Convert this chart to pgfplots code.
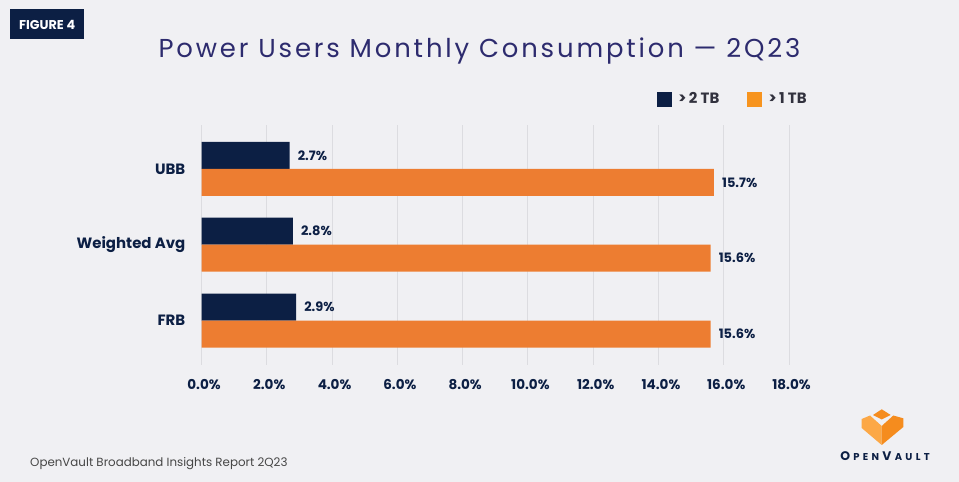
\documentclass[border=0pt]{standalone}
\usepackage{fontspec}
\setmainfont{Poppins}
\newfontfamily\titlefont[LetterSpace=11]{Poppins}
\usepackage{pgfplots}
\pgfplotsset{compat=1.18}
\definecolor{bg}{RGB}{240,240,243}
\definecolor{navy}{RGB}{12,31,68}
\definecolor{barorange}{RGB}{237,125,49}
\definecolor{legorange}{RGB}{247,148,30}
\definecolor{titlecol}{RGB}{45,43,110}
\definecolor{gridcol}{RGB}{220,220,224}
\definecolor{footgray}{RGB}{70,70,70}
\definecolor{legtext}{RGB}{50,50,62}
\definecolor{logolight}{RGB}{252,168,70}
\definecolor{logodark}{RGB}{245,140,30}
\begin{document}
\begin{tikzpicture}
\fill[bg] (0,0) rectangle (959bp,482bp);
\path[use as bounding box] (0,0) rectangle (959bp,482bp);
% figure tag
\fill[navy] (10bp,442.7bp) rectangle (84.3bp,472.7bp);
\node[text=white, font=\bfseries\fontsize{12.8}{13}\selectfont, inner sep=0] at (47.2bp,457.5bp) {FIGURE 4};
% title
\node[text=titlecol, font=\titlefont\fontsize{26}{30}\selectfont, anchor=base, inner sep=0] at (479.5bp,424.3bp) {Power Users Monthly Consumption — 2Q23};
\begin{axis}[
  at={(201.5bp,117bp)}, anchor=south west,
  scale only axis, width=587.5bp, height=240bp,
  xbar, bar width=27bp,
  xmin=0, xmax=18, ymin=-0.586, ymax=2.579,
  axis line style={draw=none}, major tick length=0,
  xtick={0,2,4,6,8,10,12,14,16,18},
  ytick={0,1,2}, yticklabels={FRB,Weighted Avg,UBB},
  xmajorgrids, grid style={gridcol, line width=1bp},
  /pgf/number format/assume math mode=true,
  xticklabel={\pgfmathprintnumber[fixed,fixed zerofill,precision=1]{\tick}\%},
  xticklabel style={font=\bfseries\fontsize{13.6}{14}\selectfont, text=navy, inner sep=0, anchor=north, yshift=-14bp, xshift=2.5bp},
  yticklabel style={font=\bfseries\fontsize{15}{16}\selectfont, text=navy, inner sep=0, anchor=east, xshift=-16bp},
  nodes near coords={\pgfmathprintnumber[fixed,fixed zerofill,precision=1]{\pgfplotspointmeta}\%},
  nodes near coords style={font=\bfseries\fontsize{13}{14}\selectfont, text=navy, anchor=west, inner sep=0, xshift=8bp},
  legend columns=2,
  legend style={draw=none, fill=none, inner sep=0, at={(0.7277,1.1083)}, anchor=west,
    font=\bfseries\fontsize{15}{16}\selectfont, text=legtext,
    nodes={inner sep=0}, column sep=0},
]
\addplot[fill=navy, draw=none, bar shift=13.5bp, forget plot] coordinates {(2.9,0) (2.8,1) (2.7,2)};
\addplot[fill=barorange, draw=none, bar shift=-13.5bp, forget plot] coordinates {(15.6,0) (15.6,1) (15.7,2)};
\addlegendimage{legend image code/.code={\path[draw=none,fill=none] (-27.7bp,0) -- (21.5bp,0); \fill[navy,draw=none] (0,-7.5bp) rectangle (15bp,7.5bp);}}
\addlegendentry{>\,2 TB}
\addlegendimage{legend image code/.code={\path[draw=none,fill=none] (-27.7bp,0) -- (21.5bp,0); \fill[legorange,draw=none] (0,-7.5bp) rectangle (15bp,7.5bp);}}
\addlegendentry{>\,1 TB}
\end{axis}
% footer
\node[text=footgray, font=\fontsize{11.9}{14}\selectfont, anchor=base west, inner sep=0] at (30bp,16bp) {OpenVault Broadband Insights Report 2Q23};
% logo
\fill[logodark] (881.7bp,72.7bp) -- (890.7bp,67bp) -- (881.7bp,62.5bp) -- (873bp,67bp) -- cycle;
\fill[logolight] (861.7bp,63bp) -- (870bp,66.5bp) -- (881.7bp,56bp) -- (881.7bp,37bp) -- (861.7bp,54bp) -- cycle;
\fill[logodark] (881.7bp,56bp) -- (893.3bp,66.5bp) -- (903.3bp,63.7bp) -- (903.3bp,55bp) -- (881.7bp,37bp) -- cycle;
\node[text=navy, anchor=base, inner sep=0] at (885bp,22bp) {\bfseries\fontsize{12.5}{13}\selectfont O\kern3.3bp\fontsize{10}{10}\selectfont P\kern3.3bp E\kern3.3bp N\kern3.3bp\fontsize{12.5}{13}\selectfont V\kern3.3bp\fontsize{10}{10}\selectfont A\kern3.3bp U\kern3.3bp L\kern3.3bp T};
\end{tikzpicture}
\end{document}
